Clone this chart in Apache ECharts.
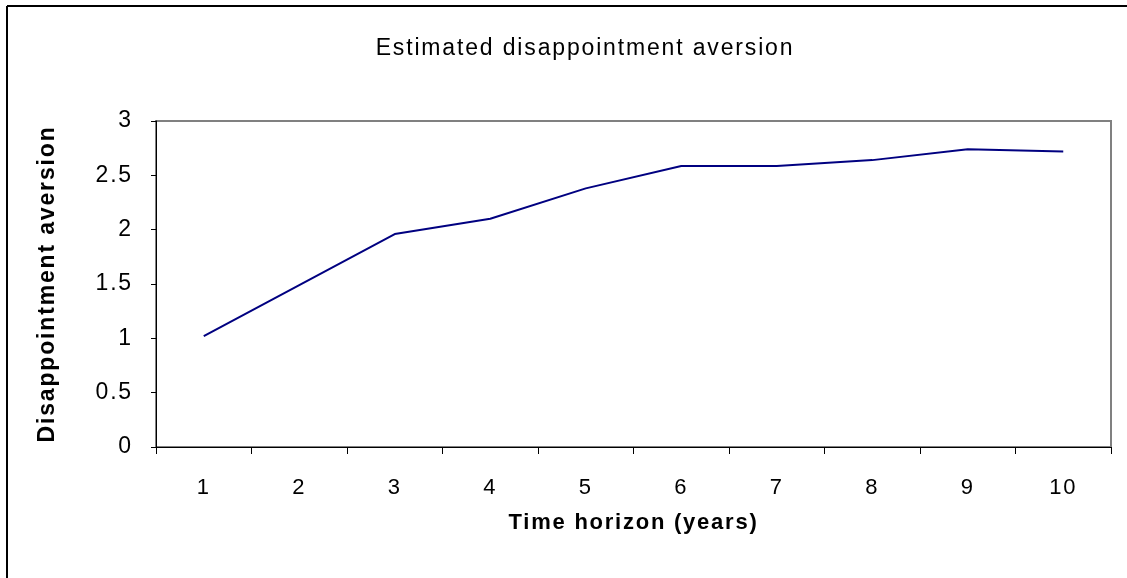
<!DOCTYPE html>
<html>
<head>
<meta charset="utf-8">
<script src="https://cdn.jsdelivr.net/npm/echarts@6/dist/echarts.min.js"></script>
<style>
  html, body { margin: 0; padding: 0; background: #fff; }
  #main { width: 1127px; height: 578px; }
</style>
</head>
<body>
<div id="main"></div>
<script>
// data
var years = ['1', '2', '3', '4', '5', '6', '7', '8', '9', '10'];
var aversion = [1.02, 1.49, 1.96, 2.10, 2.38, 2.585, 2.585, 2.64, 2.74, 2.72];
var yTicks = [0, 0.5, 1, 1.5, 2, 2.5, 3];

// the old spreadsheet export spaces its letters out a bit; mimic it on the canvas
var fontDesc = Object.getOwnPropertyDescriptor(CanvasRenderingContext2D.prototype, 'font');
Object.defineProperty(CanvasRenderingContext2D.prototype, 'font', {
  get: function () { return fontDesc.get.call(this); },
  set: function (v) {
    fontDesc.set.call(this, v);
    var m = /(\d+(\.\d+)?)px/.exec(v);
    if (m && 'letterSpacing' in this) {
      this.letterSpacing = (m[1] * 0.08).toFixed(2) + 'px';
    }
  }
});

var chart = echarts.init(document.getElementById('main'), null, { renderer: 'canvas' });
var font = 'Liberation Sans, Arial, sans-serif';

var option = {
  backgroundColor: '#fff',
  animation: false,
  title: {
    text: 'Estimated disappointment aversion',
    left: 580,
    top: 31,
    textAlign: 'center',
    textStyle: { fontFamily: font, fontSize: 23, fontWeight: 'normal', color: '#000' }
  },
  grid: {
    left: 156, right: 16, top: 121, bottom: 131,
    show: true,
    borderColor: '#808080',
    borderWidth: 2,
    backgroundColor: '#fff'
  },
  xAxis: {
    type: 'category',
    data: years,
    boundaryGap: true,
    name: 'Time horizon (years)',
    nameLocation: 'middle',
    nameGap: 64,
    nameTextStyle: { fontFamily: font, fontSize: 22, fontWeight: 'bold', color: '#000' },
    axisLine: { lineStyle: { color: '#000', width: 1 } },
    axisTick: { show: true, length: 7, lineStyle: { color: '#000' } },
    axisLabel: { fontFamily: font, fontSize: 22, color: '#000', margin: 29 },
    splitLine: { show: false }
  },
  yAxis: {
    type: 'value',
    min: yTicks[0],
    max: yTicks[yTicks.length - 1],
    interval: 0.5,
    name: 'Disappointment aversion',
    nameLocation: 'middle',
    nameGap: 96,
    nameTextStyle: { fontFamily: font, fontSize: 23, fontWeight: 'bold', color: '#000' },
    axisLine: { show: true, lineStyle: { color: '#000', width: 1 } },
    axisTick: { show: true, length: 5, lineStyle: { color: '#000' } },
    axisLabel: { fontFamily: font, fontSize: 23, color: '#000', margin: 23 },
    splitLine: { show: false }
  },
  graphic: [
    // outer frame (only left and top are in view)
    { type: 'line', shape: { x1: 7, y1: 6, x2: 7, y2: 578 }, style: { stroke: '#000', lineWidth: 2 } },
    { type: 'line', shape: { x1: 7, y1: 6, x2: 1127, y2: 6 }, style: { stroke: '#000', lineWidth: 2 } }
  ],
  series: [{
    type: 'line',
    data: aversion,
    symbol: 'none',
    lineStyle: { color: '#000080', width: 2 }
  }]
};
chart.setOption(option);
</script>
</body>
</html>
